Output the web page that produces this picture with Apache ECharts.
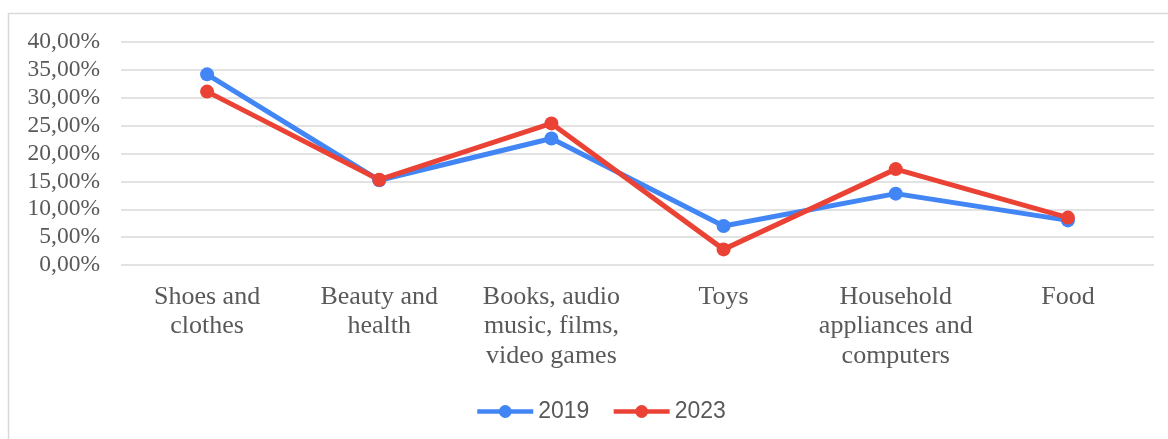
<!DOCTYPE html>
<html>
<head>
<meta charset="utf-8">
<script src="https://cdn.jsdelivr.net/npm/echarts@6/dist/echarts.min.js"></script>
<style>
html,body{margin:0;padding:0;background:#fff;}
#chart{width:1168px;height:439px;}
</style>
</head>
<body>
<div id="chart"></div>
<script>
const categories = [
  "Shoes and\nclothes",
  "Beauty and\nhealth",
  "Books, audio\nmusic, films,\nvideo games",
  "Toys",
  "Household\nappliances and\ncomputers",
  "Food"
];
const values2019 = [34.2, 15.2, 22.7, 7.0, 12.8, 8.0];
const values2023 = [31.1, 15.3, 25.4, 2.8, 17.2, 8.5];
const seriesNames = ["2019", "2023"];

const chart = echarts.init(document.getElementById('chart'));
const serif = '"Liberation Serif", "Times New Roman", serif';
const sans = '"Liberation Sans", Arial, sans-serif';
chart.setOption({
  animation: false,
  backgroundColor: '#ffffff',
  graphic: [{
    type: 'rect',
    shape: { x: 8.5, y: 13.5, width: 1300, height: 600 },
    style: { fill: 'none', stroke: '#d9d9d9', lineWidth: 1.5 },
    silent: true
  }],
  grid: { left: 121, right: 14, top: 42, bottom: 174 },
  legend: {
    top: 395,
    left: 470,
    itemWidth: 56,
    itemHeight: 16,
    itemGap: 22,
    lineStyle: { width: 4.5 },
    textStyle: { fontFamily: sans, fontSize: 23, color: '#595959' },
    data: seriesNames
  },
  xAxis: {
    type: 'category',
    data: categories,
    boundaryGap: true,
    axisLine: { show: false },
    axisTick: { show: false },
    axisLabel: {
      fontFamily: serif, fontSize: 26, color: '#595959',
      lineHeight: 29.5, margin: 17, interval: 0
    }
  },
  yAxis: {
    type: 'value',
    min: 0, max: 40, interval: 5,
    axisLine: { show: false },
    axisTick: { show: false },
    splitLine: { lineStyle: { color: '#d9d9d9', width: 1.5 } },
    axisLabel: {
      fontFamily: serif, fontSize: 23.5, color: '#595959', margin: 21,
      formatter: v => v.toFixed(2).replace('.', ',') + '%'
    }
  },
  series: [
    {
      name: seriesNames[0], type: 'line', data: values2019,
      symbol: 'circle', symbolSize: 14,
      lineStyle: { width: 5, color: '#4285F4' },
      itemStyle: { color: '#4285F4' }
    },
    {
      name: seriesNames[1], type: 'line', data: values2023,
      symbol: 'circle', symbolSize: 14,
      lineStyle: { width: 5, color: '#EA4335' },
      itemStyle: { color: '#EA4335' }
    }
  ]
});
</script>
</body>
</html>
